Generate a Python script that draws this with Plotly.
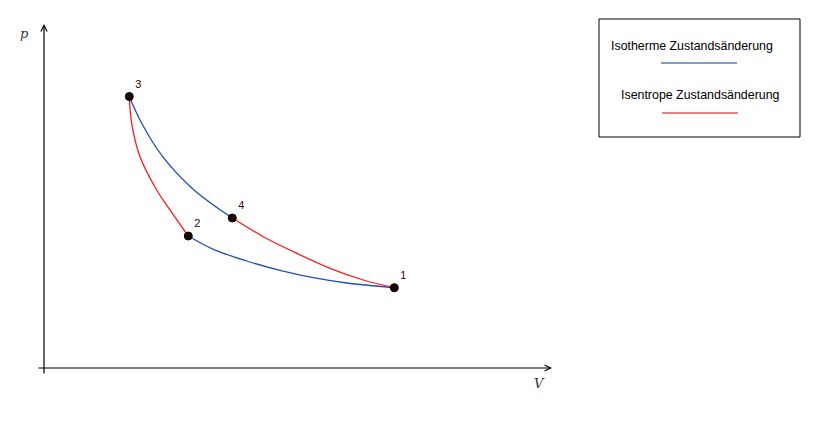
import plotly.graph_objects as go

# state points of the cycle (V, p)
point_names = ['1', '2', '3', '4']
point_v = [350.3, 144.3, 85.3, 188.3]
point_p = [80.3, 132.0, 271.5, 150.0]

# isotherms (blue)
iso_34_v = [85.3, 97.7, 118.7, 150.0, 188.3]
iso_34_p = [271.5, 244.7, 211.3, 178.0, 150.0]
iso_21_v = [144.3, 169.3, 202.7, 236.0, 269.3, 302.7, 350.3]
iso_21_p = [132.0, 118.7, 107.0, 97.7, 90.3, 85.0, 80.3]

# isentropes (red)
ise_32_v = [85.3, 87.7, 96.0, 112.7, 123.7, 135.3, 144.3]
ise_32_p = [271.5, 244.7, 211.3, 178.0, 161.3, 144.7, 132.0]
ise_41_v = [188.3, 219.3, 252.7, 286.0, 319.3, 350.3]
ise_41_p = [150.0, 131.3, 114.7, 99.7, 88.0, 80.3]

legend_labels = ['Isotherme Zustandsänderung', 'Isentrope Zustandsänderung']

BLUE = '#1f4fb4'
RED = '#ff1a1a'

fig = go.Figure()

for v, p, color in [(iso_34_v, iso_34_p, BLUE), (iso_21_v, iso_21_p, BLUE),
                    (ise_32_v, ise_32_p, RED), (ise_41_v, ise_41_p, RED)]:
    fig.add_trace(go.Scatter(x=v, y=p, mode='lines', line=dict(color=color, width=1.3, shape='spline'),
                             hoverinfo='skip', showlegend=False))

fig.add_trace(go.Scatter(
    x=point_v, y=point_p, mode='markers+text', text=point_names,
    textposition='top right',
    textfont=dict(family='Liberation Sans, Arial, sans-serif', size=11, color='#3a0000'),
    marker=dict(size=8, color='#1a0505', line=dict(color='#000000', width=1)),
    showlegend=False
))

# axes with arrow tips
fig.add_annotation(x=508, y=0, ax=-7, ay=0, xref='x', yref='y', axref='x', ayref='y',
                   showarrow=True, arrowhead=5, arrowsize=1, arrowwidth=1.2, arrowcolor='black', text='')
fig.add_annotation(x=0, y=344, ax=0, ay=-7, xref='x', yref='y', axref='x', ayref='y',
                   showarrow=True, arrowhead=5, arrowsize=1, arrowwidth=1.2, arrowcolor='black', text='')
fig.add_annotation(x=-20, y=335, text='<i>p</i>', showarrow=False,
                   font=dict(family='DejaVu Serif, serif', size=13, color='#333333'))
fig.add_annotation(x=495, y=-15, text='<i>V</i>', showarrow=False,
                   font=dict(family='DejaVu Serif, serif', size=13, color='#333333'))

# legend box
fig.add_shape(type='rect', x0=555, x1=756, y0=231, y1=349, line=dict(color='black', width=1))
fig.add_annotation(x=648, y=322, text=legend_labels[0], showarrow=False,
                   font=dict(family='Liberation Sans, Arial, sans-serif', size=12.4, color='black'))
fig.add_shape(type='line', x0=617, x1=693, y0=305, y1=305, line=dict(color='#0b3a94', width=1.2))
fig.add_annotation(x=656, y=273, text=legend_labels[1], showarrow=False,
                   font=dict(family='Liberation Sans, Arial, sans-serif', size=12.4, color='black'))
fig.add_shape(type='line', x0=618, x1=694, y0=255, y1=255, line=dict(color='#e00000', width=1.2))

# the page puts the figure 8px in from the top-left corner, so the ranges are shifted by that
fig.update_layout(
    width=832, height=421,
    margin=dict(l=0, r=0, t=0, b=0),
    plot_bgcolor='white', paper_bgcolor='white',
    xaxis=dict(range=[-36, 796], visible=False, fixedrange=True),
    yaxis=dict(range=[-61, 360], visible=False, fixedrange=True),
)

fig.write_html("out.html")
